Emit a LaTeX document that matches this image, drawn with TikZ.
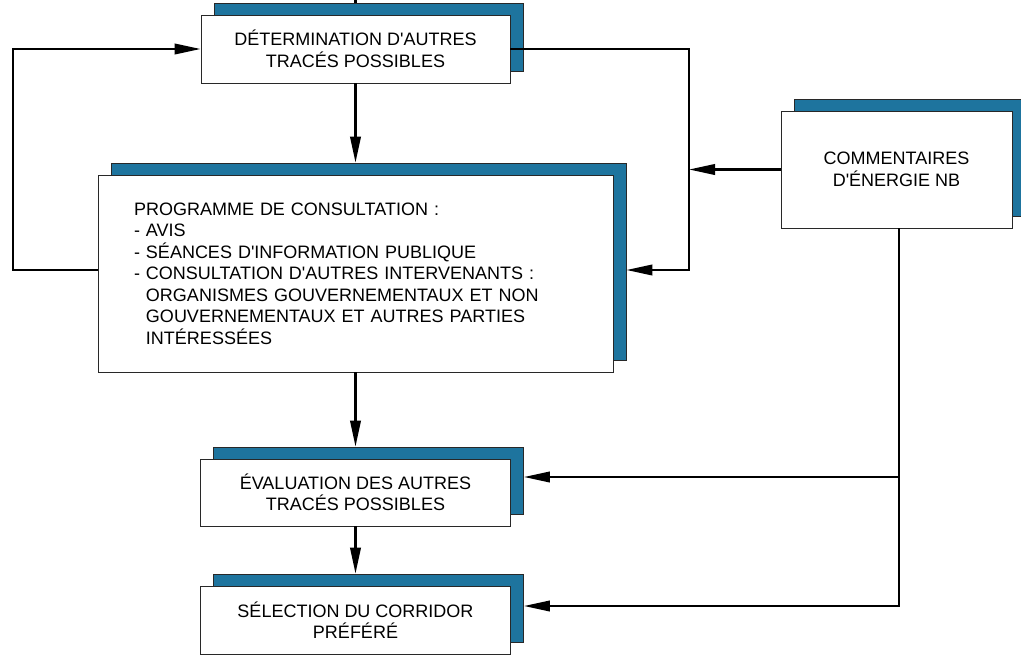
\documentclass[tikz,border=0pt]{standalone}
\usepackage{fontspec}
\setmainfont{Liberation Sans}[Ligatures=TeXOff]
\usetikzlibrary{arrows.meta,shadows}
\definecolor{shblue}{RGB}{30,116,158}
\definecolor{boxline}{RGB}{40,40,40}
\begin{document}
\begin{tikzpicture}[x=1pt,y=-1pt,
  box/.style={draw=boxline, line width=0.8pt, fill=white, inner sep=0pt,
    align=center, font=\fontsize{18}{21.5}\selectfont,
    general shadow={fill=shblue, draw=boxline, line width=0.8pt,
      shadow xshift=13pt, shadow yshift=12pt}},
  wire/.style={line width=2.2pt, draw=black},
  conn/.style={wire, -{Triangle[length=26pt,width=10.5pt]}}]
\useasboundingbox (0,0) rectangle (1021,654);
\node[box, minimum width=309pt, minimum height=68pt] (top) at (355.5,49)
  {DÉTERMINATION D'AUTRES\\TRACÉS POSSIBLES};
\node[box, minimum width=515pt, minimum height=197pt, text width=443pt, align=left] (cons) at (355.5,273.5)
  {PROGRAMME DE CONSULTATION :\\
   - AVIS\\
   - SÉANCES D'INFORMATION PUBLIQUE\\
   - CONSULTATION D'AUTRES INTERVENANTS :\\
   \phantom{- }ORGANISMES GOUVERNEMENTAUX ET NON\\
   \phantom{- }GOUVERNEMENTAUX ET AUTRES PARTIES\\
   \phantom{- }INTÉRESSÉES};
\node[box, minimum width=231pt, minimum height=117pt] (comm) at (896.5,169.5)
  {COMMENTAIRES\\D'ÉNERGIE NB};
\node[box, minimum width=310pt, minimum height=67pt] (eval) at (355.5,492.5)
  {ÉVALUATION DES AUTRES\\TRACÉS POSSIBLES};
\node[box, minimum width=310pt, minimum height=68pt] (sel) at (355.5,620)
  {SÉLECTION DU CORRIDOR\\PRÉFÉRÉ};
\coordinate (topin) at (355.5,0);
\coordinate (rx) at (689,170);
\draw[wire] (topin) -- ([yshift=12pt]top.north);
\draw[conn] (top.south) -- ([yshift=12pt]cons.north);
\draw[conn] (cons.south) -- ([yshift=12pt]eval.north);
\draw[conn] (eval.south) -- ([yshift=12pt]sel.north);
\draw[conn] ([yshift=3.5pt]cons.west) -- ++(-85,0) |- (top.west);
\draw[conn] (top.east) -- (top.east -| rx) |- ([xshift=13pt,yshift=3.5pt]cons.east);
\draw[conn] (comm.west) -- (comm.west -| rx);
\draw[conn] ([xshift=2.5pt]comm.south) |- ([xshift=13pt,yshift=15.5pt]eval.east);
\draw[conn] ([xshift=2.5pt]comm.south) |- ([xshift=13pt,yshift=14pt]sel.east);
\end{tikzpicture}
\end{document}
